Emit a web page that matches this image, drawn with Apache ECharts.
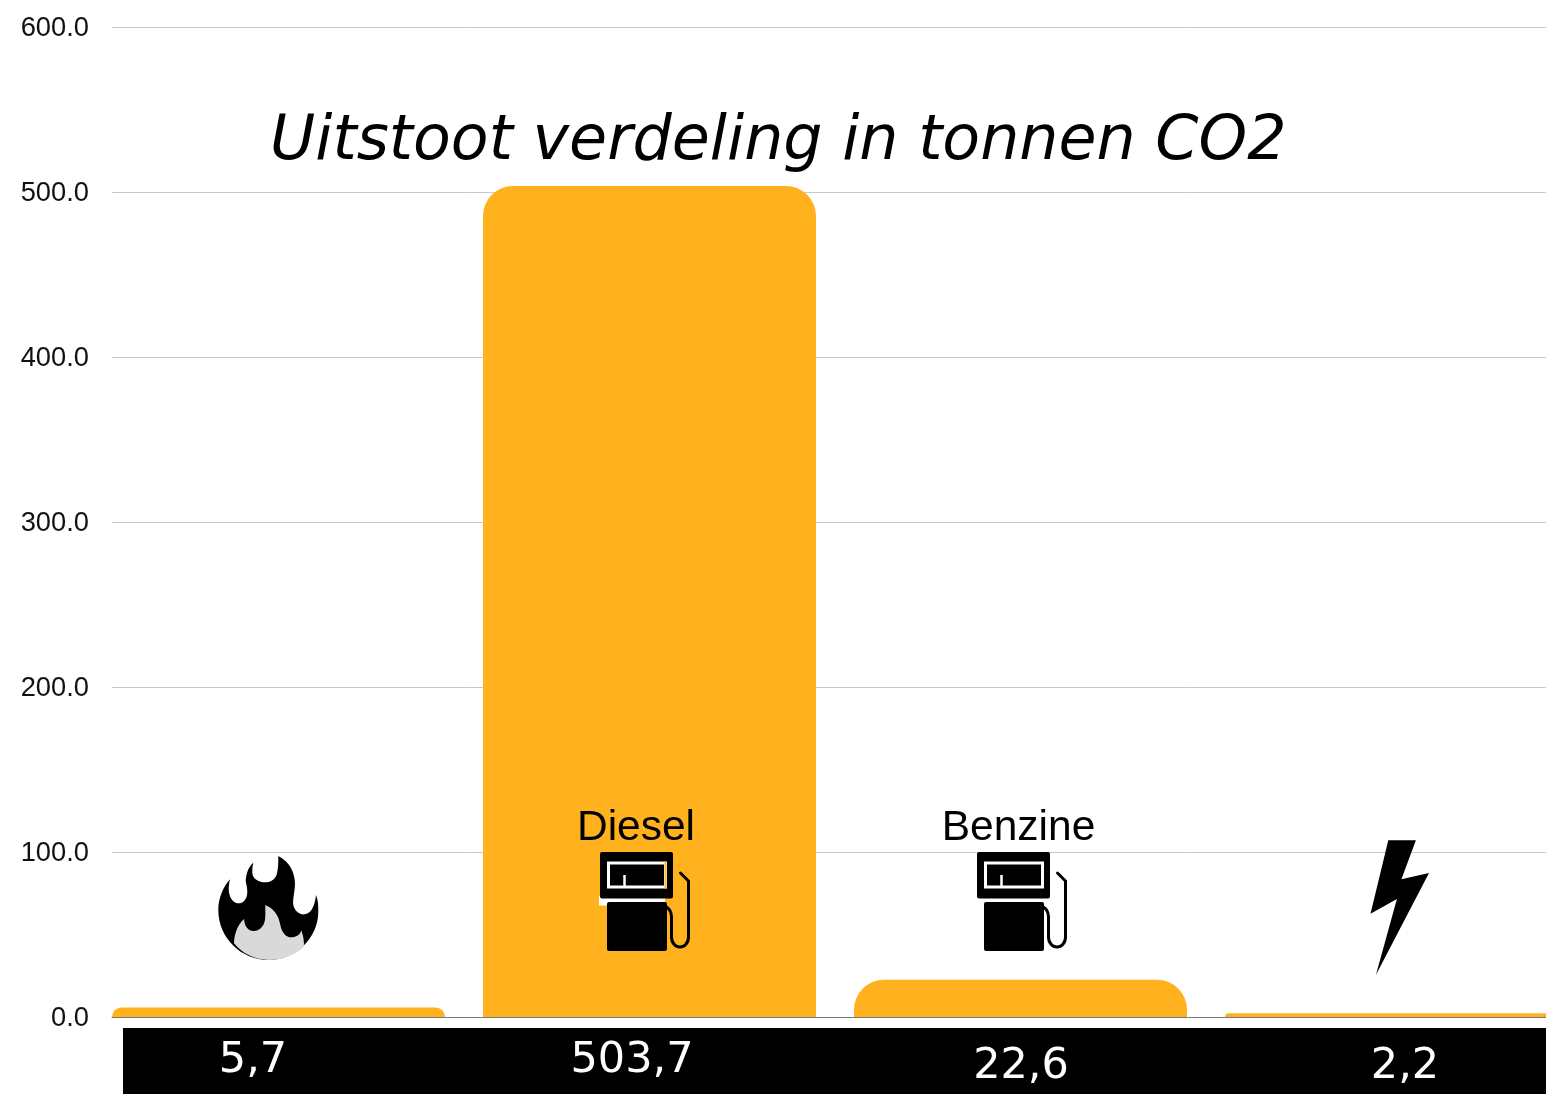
<!DOCTYPE html>
<html>
<head>
<meta charset="utf-8">
<title>Uitstoot verdeling</title>
<script src="https://cdn.jsdelivr.net/npm/echarts@6/dist/echarts.min.js"></script>
<style>
  html, body { margin: 0; padding: 0; background: #fff; }
  #chart { width: 1546px; height: 1094px; }
</style>
</head>
<body>
<div id="chart"></div>
<script>
const categories = ['Gas', 'Diesel', 'Benzine', 'Elektriciteit']
const emissions = [5.7, 503.7, 22.6, 2.2]
const yTicks = [0, 100, 200, 300, 400, 500, 600]
const chartTitle = 'Uitstoot verdeling in tonnen CO2'
const fuelLabels = ['Diesel', 'Benzine']

const BAR_COLOR = '#ffb21e'
const SANS = '"Liberation Sans", Arial, sans-serif'
const DEJAVU = '"DejaVu Sans", Verdana, sans-serif'

// black strip text does not sit under the bar centres in the original
const stripLabelPlaces = [[253, 1061], [632, 1061], [1021, 1067], [1405, 1067]]
const fuelLabelPlaces = [[636, 828], [1018.5, 828]]

const flameBlack = 'M205 18 C240 35 255 70 255 100 C255 125 248 145 250 165 C255 185 270 195 285 193 C305 190 315 165 318 135 C325 150 325 170 325 185 C325 265 255 330 175 330 C95 330 25 265 25 180 C25 145 40 110 60 88 C56 105 55 120 58 132 C62 150 75 160 85 160 C102 160 112 145 112 125 C112 105 105 95 108 85 C110 65 118 48 130 38 C127 50 126 62 128 75 C132 88 148 97 165 97 C185 97 200 85 202 65 C205 50 205 35 205 18 Z'
const flameGrey = 'M72 280 C72 260 80 225 102 207 C103 230 115 243 130 243 C150 243 165 225 165 200 C166 185 165 175 165 165 C190 175 205 195 210 225 C215 250 228 262 242 262 C258 262 272 252 272 240 C278 255 282 275 280 290 C255 315 215 330 175 330 C135 330 95 310 72 280 Z'
const hose = 'M0 34 C3 36 5 39 5 44 L5 64 C5 70 9 74 13.5 74 C18 74 22 70 22 64 L22 8 L14 0'

function pump(x) {
  return [
    { type: 'rect', shape: { x: x, y: 852, width: 73, height: 46.5, r: 2 }, style: { fill: '#000' } },
    { type: 'rect', shape: { x: x + 8.5, y: 863, width: 57, height: 24 }, style: { fill: 'none', stroke: '#fff', lineWidth: 3 } },
    { type: 'line', shape: { x1: x + 24.5, y1: 875, x2: x + 24.5, y2: 886 }, style: { stroke: '#fff', lineWidth: 2.5 } },
    { type: 'rect', shape: { x: x + 7, y: 902, width: 60, height: 49, r: 2 }, style: { fill: '#000' } },
    {
      type: 'path',
      shape: { pathData: hose, layout: 'cover', x: x + 66.5, y: 873, width: 22, height: 74 },
      style: { fill: 'none', stroke: '#000', lineWidth: 3, lineCap: 'round' }
    }
  ]
}

const icons = [
  { type: 'path', shape: { pathData: flameBlack, layout: 'cover', x: 218.3, y: 856, width: 100, height: 104 }, style: { fill: '#000' } },
  { type: 'path', shape: { pathData: flameGrey, layout: 'cover', x: 234, y: 905, width: 70, height: 55 }, style: { fill: '#d9d9d9' } },
  // white leftover behind the pump on the diesel bar
  { type: 'rect', shape: { x: 599, y: 896, width: 66, height: 9.5 }, style: { fill: '#fff' } },
  ...pump(600),
  { type: 'rect', shape: { x: 664.5, y: 861.5, width: 2, height: 27 }, style: { fill: BAR_COLOR } },
  ...pump(977),
  {
    type: 'polygon',
    shape: { points: [[1388.3, 840.3], [1415.9, 840.3], [1401.4, 879.3], [1429, 873], [1375.9, 975], [1396.9, 899], [1370.5, 913.7]] },
    style: { fill: '#000' }
  }
]

const strip = { type: 'rect', shape: { x: 123, y: 1028, width: 1423, height: 66 }, style: { fill: '#000' } }

const stripLabels = emissions.map((v, i) => ({
  type: 'text',
  style: {
    text: v.toFixed(1).replace('.', ','),
    x: stripLabelPlaces[i][0], y: stripLabelPlaces[i][1],
    align: 'center', verticalAlign: 'middle',
    font: '43px ' + DEJAVU, fill: '#fff'
  }
}))

const fuelTexts = fuelLabels.map((t, i) => ({
  type: 'text',
  style: {
    text: t,
    x: fuelLabelPlaces[i][0], y: fuelLabelPlaces[i][1],
    align: 'center', verticalAlign: 'middle',
    font: '42.5px ' + SANS, fill: '#000'
  }
}))

const chart = echarts.init(document.getElementById('chart'))
chart.setOption({
  animation: false,
  backgroundColor: '#fff',
  title: {
    text: chartTitle,
    left: 270, top: 112, padding: 0,
    textStyle: { fontFamily: DEJAVU, fontStyle: 'italic', fontWeight: 'normal', fontSize: 61.8, color: '#000' }
  },
  // grid 0 carries the visible axes, grid 1 is wider because the bars run off the right edge
  grid: [
    { left: 112, right: 0, top: 27, bottom: 77, outerBoundsMode: 'none' },
    { left: 93, width: 1484, top: 27, bottom: 77, outerBoundsMode: 'none' }
  ],
  xAxis: [
    {
      type: 'category', gridIndex: 0, data: categories,
      axisLine: { show: true, lineStyle: { color: '#777', width: 1 } },
      axisTick: { show: false }, axisLabel: { show: false }
    },
    { type: 'category', gridIndex: 1, data: categories, show: false }
  ],
  yAxis: [
    {
      type: 'value', gridIndex: 0,
      min: yTicks[0], max: yTicks[yTicks.length - 1], interval: yTicks[1] - yTicks[0],
      axisLine: { show: false }, axisTick: { show: false },
      axisLabel: {
        margin: 23, verticalAlign: 'top', lineHeight: 3,
        fontFamily: SANS, fontSize: 27.3, color: '#111',
        formatter: v => v.toFixed(1)
      },
      splitLine: { show: true, lineStyle: { color: '#c8c8c8', width: 1 } }
    },
    {
      type: 'value', gridIndex: 1, show: false,
      min: yTicks[0], max: yTicks[yTicks.length - 1], splitLine: { show: false }
    }
  ],
  series: [
    {
      type: 'bar',
      xAxisIndex: 1, yAxisIndex: 1,
      data: emissions,
      barWidth: 333,
      clip: false,
      itemStyle: { color: BAR_COLOR, borderRadius: [30, 30, 0, 0] }
    },
    {
      // the fuel icons, one draw call is enough
      type: 'custom',
      xAxisIndex: 0, yAxisIndex: 0,
      data: [0],
      z: 5,
      silent: true,
      clip: false,
      renderItem: () => ({ type: 'group', children: icons })
    }
  ],
  graphic: { elements: [strip, ...stripLabels, ...fuelTexts].map(el => ({ ...el, z: 10 })) }
})
</script>
</body>
</html>
